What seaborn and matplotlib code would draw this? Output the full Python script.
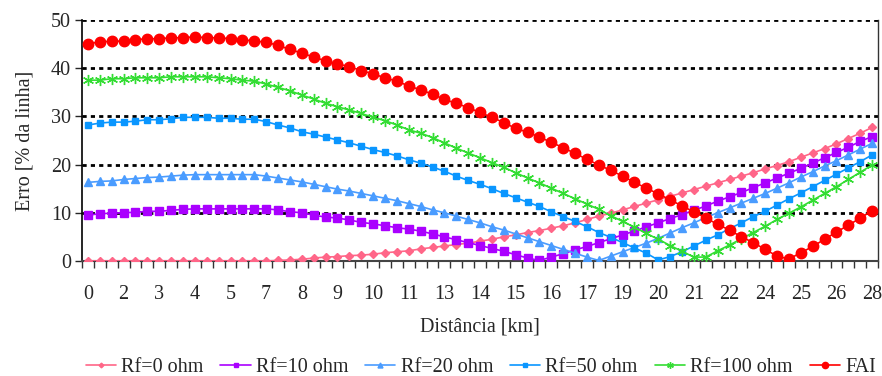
import numpy as np
import pandas as pd
import matplotlib
matplotlib.use("Agg")
import matplotlib.pyplot as plt
import seaborn as sns

# category positions along the line (Excel-style category axis)
positions = np.arange(67)
tick_labels = ["0", "2", "3", "4", "5", "7", "8", "9", "10", "11", "13", "14",
               "15", "16", "17", "19", "20", "21", "22", "24", "25", "26", "28"]

rf0 = [0.0, 0.0, 0.0, 0.0, 0.0, 0.0, 0.0, 0.0, 0.0, 0.0, 0.0, 0.0, 0.0, 0.0, 0.0, 0.0, 0.1,
       0.2, 0.35, 0.6, 0.8, 0.9, 1.1, 1.2, 1.4, 1.7, 1.9, 2.1, 2.5, 2.8, 3.1, 3.4, 3.7, 4.1,
       4.5, 5.0, 5.4, 5.9, 6.3, 6.8, 7.3, 7.9, 8.6, 9.3, 9.9, 10.6, 11.3, 12.0, 12.7, 13.4,
       14.1, 14.8, 15.5, 16.2, 16.9, 17.6, 18.3, 19.1, 19.8, 20.6, 21.5, 22.4, 23.3, 24.3,
       25.4, 26.5, 27.7]
rf10 = [9.5, 9.8, 9.9, 10.0, 10.1, 10.3, 10.3, 10.5, 10.7, 10.8, 10.8, 10.8, 10.8, 10.8,
        10.8, 10.8, 10.6, 10.2, 10.0, 9.5, 9.1, 8.9, 8.5, 8.0, 7.7, 7.3, 6.9, 6.6, 6.2, 5.6,
        5.0, 4.4, 3.8, 3.2, 2.6, 2.0, 1.3, 0.6, 0.1, 0.8, 1.5, 2.3, 3.0, 3.8, 4.6, 5.4, 6.2,
        7.1, 7.9, 8.8, 9.6, 10.5, 11.4, 12.4, 13.3, 14.2, 15.2, 16.2, 17.2, 18.2, 19.2, 20.3,
        21.4, 22.5, 23.6, 24.8, 25.8]
rf20 = [16.3, 16.5, 16.6, 16.9, 17.1, 17.3, 17.4, 17.6, 17.8, 17.9, 17.9, 17.9, 17.9, 17.9,
        17.9, 17.6, 17.2, 16.8, 16.4, 15.9, 15.4, 14.9, 14.5, 14.0, 13.5, 13.0, 12.5, 11.9,
        11.3, 10.6, 10.0, 9.3, 8.6, 7.9, 7.1, 6.4, 5.6, 4.8, 4.0, 3.2, 2.4, 1.6, 0.8, 0.1,
        1.0, 1.9, 2.8, 3.7, 4.7, 5.8, 6.9, 7.9, 9.0, 10.0, 11.0, 12.0, 13.0, 14.0, 15.1, 16.2,
        17.4, 18.5, 19.7, 20.8, 22.0, 23.2, 24.4]
rf50 = [28.2, 28.6, 28.8, 28.8, 29.0, 29.3, 29.3, 29.5, 29.8, 29.8, 29.8, 29.6, 29.6, 29.4,
        29.4, 28.9, 28.2, 27.6, 26.8, 26.3, 25.7, 25.1, 24.5, 23.8, 23.1, 22.5, 21.8, 21.0,
        20.3, 19.5, 18.6, 17.6, 16.7, 15.9, 15.0, 14.0, 13.1, 12.2, 11.3, 10.2, 9.2, 8.2,
        7.1, 5.9, 4.9, 3.8, 2.7, 1.6, 0.2, 0.9, 1.9, 3.1, 4.3, 5.4, 6.7, 7.9, 9.2, 10.3, 11.6,
        12.9, 14.1, 15.4, 16.7, 18.0, 19.3, 20.6, 22.0]
rf100 = [37.5, 37.5, 37.8, 37.8, 38.0, 38.0, 38.0, 38.2, 38.2, 38.2, 38.2, 38.0, 37.8, 37.5,
         37.3, 36.7, 36.0, 35.3, 34.4, 33.6, 32.7, 32.0, 31.3, 30.6, 29.8, 29.1, 28.2, 27.2,
         26.5, 25.6, 24.5, 23.4, 22.4, 21.4, 20.4, 19.4, 18.3, 17.2, 16.2, 15.1, 14.0, 12.9,
         11.8, 10.7, 9.4, 8.2, 7.0, 5.7, 4.5, 3.2, 2.0, 0.8, 0.8, 2.1, 3.3, 4.6, 5.9, 7.2,
         8.6, 9.9, 11.2, 12.6, 14.0, 15.4, 16.9, 18.4, 19.9]
fai = [45.1, 45.4, 45.6, 45.6, 45.9, 46.1, 46.1, 46.3, 46.3, 46.5, 46.3, 46.3, 46.1, 45.9,
       45.6, 45.4, 44.7, 43.9, 43.1, 42.3, 41.5, 40.9, 40.3, 39.5, 38.8, 38.0, 37.3, 36.3,
       35.5, 34.6, 33.5, 32.7, 31.8, 30.8, 29.8, 28.7, 27.5, 26.7, 25.7, 24.6, 23.5, 22.3,
       21.1, 19.9, 18.8, 17.6, 16.3, 15.1, 13.9, 12.7, 11.4, 10.2, 8.9, 7.6, 6.4, 5.0, 3.8,
       2.4, 1.0, 0.4, 1.7, 3.0, 4.5, 6.0, 7.4, 8.9, 10.4]

series = [
    ("Rf=0 ohm", rf0, "#ff6688", "D", 4),
    ("Rf=10 ohm", rf10, "#aa00ff", "s", 5.5),
    ("Rf=20 ohm", rf20, "#4a9cff", "^", 6),
    ("Rf=50 ohm", rf50, "#0a96ff", "s", 4),
    ("Rf=100 ohm", rf100, "#33dd33", (6, 2, 0), 8),
    ("FAI", fai, "#ff0000", "o", 7.5),
]

sns.set_style("white")
plt.rcParams["font.family"] = ["Liberation Serif", "DejaVu Serif"]

fig = plt.figure(figsize=(8.82, 3.76), dpi=100)
ax = fig.add_axes([0.093, 0.306, 0.9025, 0.641])

for name, vals, color, marker, ms in series:
    df = pd.DataFrame({"pos": positions, "erro": vals})
    sns.lineplot(data=df, x="pos", y="erro", ax=ax, color=color, marker=marker,
                 markersize=ms, markeredgecolor=color, markeredgewidth=1.0,
                 linewidth=1.2, label=name, zorder=3)

ax.set_xlim(-0.5, 66.5)
ax.set_ylim(0, 50)
ax.set_yticks([0, 10, 20, 30, 40, 50])
for yv in [10, 20, 30, 40, 50]:
    ax.axhline(yv, color="black", linestyle=(0, (1.5, 1.5)), linewidth=2.0, zorder=1)

ax.set_xticks(positions[::3])
ax.set_xticklabels(tick_labels)
ax.set_xticks(np.arange(-0.5, 67, 1), minor=True)
ax.tick_params(axis="x", which="major", length=0, labelsize=14.5, pad=17)
ax.tick_params(axis="x", which="minor", length=5, width=1, color="#333333",
               direction="out", bottom=True)
ax.tick_params(axis="y", which="major", length=5, width=1, direction="out",
               left=True, labelsize=14.5, pad=3)

ax.spines["top"].set_visible(False)
ax.spines["left"].set_color("black")
ax.spines["left"].set_linewidth(1.2)
ax.spines["bottom"].set_color("#444444")
ax.spines["bottom"].set_linewidth(1.5)
ax.spines["right"].set_color("#333333")
ax.spines["right"].set_linewidth(1.0)

ax.set_xlabel("Distância [km]", fontsize=14.5, labelpad=10)
ax.set_ylabel("Erro [% da linha]", fontsize=14.5, labelpad=12)

handles, labels = ax.get_legend_handles_labels()
ax.get_legend().remove()
fig.legend(handles, labels, loc="center", bbox_to_anchor=(0.545, 0.022), ncol=6,
           frameon=False, fontsize=14.5, handlelength=1.5, handletextpad=0.25,
           columnspacing=0.85, markerscale=0.6, borderpad=0.1)

fig.savefig("out.png", dpi=100)
